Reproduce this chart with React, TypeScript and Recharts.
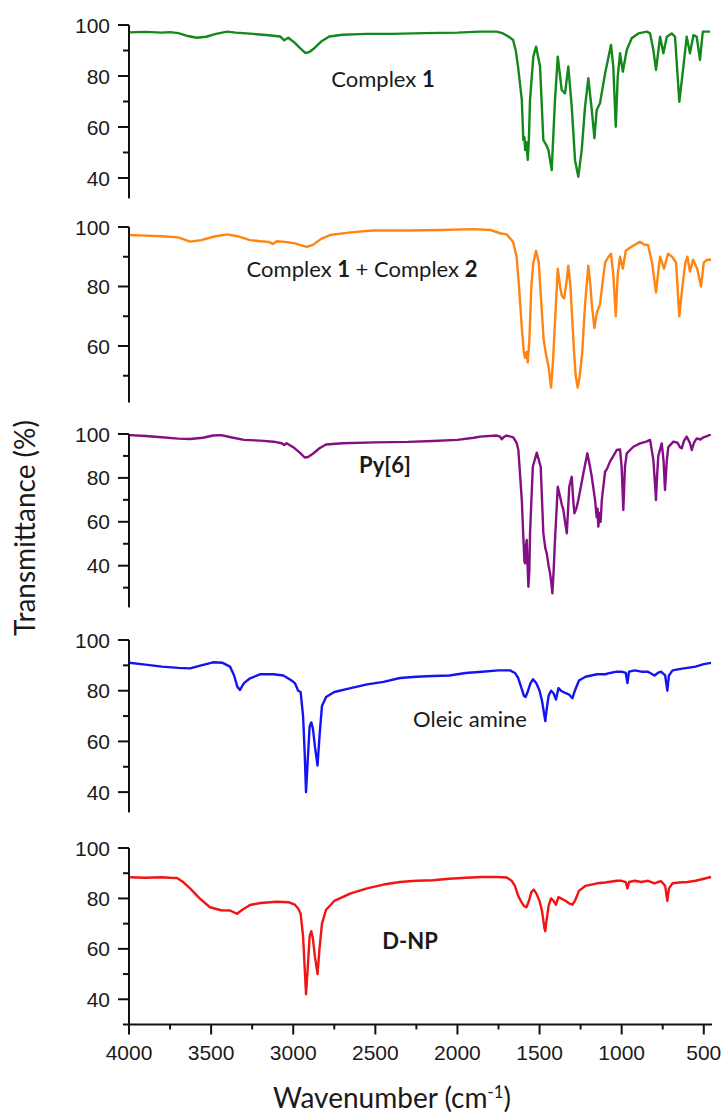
import { LineChart, Line, XAxis, YAxis } from 'recharts';

// [wavenumber (cm-1), transmittance (%)]
const complex1: [number, number][] = [
  [4000, 97.1], [3900, 97.3], [3800, 97], [3750, 97.2], [3700, 96.8], [3650, 95.8], [3586, 95], [3530, 95.4],
  [3470, 96.5], [3403, 97.4], [3350, 97], [3263, 96.6], [3150, 96], [3080, 95.5], [3055, 94], [3030, 95],
  [2990, 93], [2960, 91], [2925, 89], [2900, 89.5], [2870, 91], [2830, 93.5], [2780, 95.5], [2700, 96.2],
  [2550, 96.5], [2400, 96.5], [2200, 96.8], [2000, 97], [1900, 97.3], [1862, 97.4], [1760, 97.4], [1722, 96.7],
  [1690, 95.5], [1661, 94.1], [1645, 90], [1631, 83.7], [1608, 70.6], [1599, 54.9], [1592, 56], [1588, 51],
  [1580, 54], [1572, 47.1], [1565, 55], [1558, 70.6], [1538, 87.6], [1521, 91.5], [1497, 83.7], [1477, 54.9],
  [1460, 53], [1446, 51], [1426, 43.1], [1406, 70.6], [1389, 87.6], [1365, 74.5], [1345, 73.2], [1325, 83.7],
  [1304, 68], [1284, 47], [1264, 40.5], [1243, 51], [1223, 68], [1203, 79.1], [1182, 66.7], [1166, 55.6],
  [1152, 66.7], [1132, 69.3], [1101, 81], [1065, 92.2], [1051, 83.7], [1036, 60.1], [1024, 79.7], [1010, 88.9],
  [993, 81.7], [969, 90.2], [939, 94.8], [898, 96.7], [847, 97.4], [827, 96.7], [807, 90.2], [791, 82.4],
  [766, 95.4], [746, 88.9], [725, 95.4], [695, 96.7], [675, 95.4], [649, 69.9], [624, 83.7], [604, 95.4],
  [584, 88.9], [563, 96], [543, 95.4], [523, 86.3], [506, 97.4], [462, 97.4],
];

const complex12: [number, number][] = [
  [4000, 97.3], [3900, 97.1], [3800, 96.9], [3700, 96.5], [3628, 95.1], [3560, 95.6], [3480, 96.8], [3403, 97.5],
  [3330, 96.8], [3263, 95.6], [3200, 95.2], [3150, 95], [3123, 94.3], [3100, 95.2], [3050, 95], [2990, 94.5],
  [2950, 93.8], [2918, 93.3], [2880, 94], [2830, 96], [2776, 97.3], [2650, 98.2], [2514, 98.8], [2300, 98.8],
  [2100, 99], [1905, 99.3], [1800, 99], [1741, 97.9], [1700, 97.5], [1661, 95], [1640, 90], [1625, 80],
  [1608, 66], [1596, 58], [1588, 56], [1580, 58], [1572, 54.5], [1562, 62], [1550, 80], [1538, 88],
  [1521, 92], [1505, 88], [1490, 75], [1475, 62], [1460, 57], [1445, 53], [1430, 46], [1418, 55],
  [1406, 68], [1389, 86], [1375, 80], [1365, 77], [1350, 76], [1335, 82], [1325, 87], [1312, 80],
  [1300, 68], [1290, 58], [1280, 50], [1268, 46], [1255, 50], [1240, 58], [1223, 74], [1203, 87],
  [1190, 80], [1182, 74], [1166, 66], [1152, 71], [1132, 74], [1115, 82], [1101, 88], [1080, 90],
  [1065, 91], [1051, 84], [1036, 70], [1024, 84], [1010, 90], [993, 86], [975, 92], [950, 93],
  [920, 94], [890, 95], [860, 94], [840, 94], [815, 88], [791, 78], [775, 86], [766, 90],
  [742, 86], [718, 91], [693, 90], [669, 88], [649, 70], [630, 80], [612, 88], [600, 90],
  [584, 85], [565, 89], [540, 86], [517, 80], [500, 88], [480, 89], [456, 89],
];

const py6: [number, number][] = [
  [4000, 99.5], [3900, 99.1], [3800, 98.5], [3700, 97.9], [3628, 97.7], [3550, 98.3], [3488, 99.3], [3440, 99.5],
  [3380, 98.5], [3300, 97.3], [3200, 97], [3120, 96.5], [3070, 95.8], [3055, 95], [3040, 95.8], [3000, 94],
  [2960, 91.5], [2930, 89.3], [2910, 89.5], [2880, 91], [2840, 93.5], [2800, 95.2], [2700, 95.8], [2500, 96.2],
  [2300, 96.4], [2150, 96.8], [2000, 97.3], [1900, 98.3], [1862, 98.8], [1761, 99.3], [1740, 98.8], [1730, 97.6],
  [1715, 98.8], [1700, 99.3], [1660, 98.5], [1640, 96], [1629, 92.7], [1608, 69.9], [1599, 53.2], [1592, 42],
  [1588, 41.1], [1583, 49], [1578, 51.7], [1573, 40], [1568, 30.4], [1562, 38], [1558, 54.8], [1541, 85.1],
  [1517, 91.5], [1493, 85.1], [1477, 54.8], [1465, 48], [1456, 45.6], [1445, 40], [1436, 36.5], [1428, 32],
  [1422, 27.4], [1414, 38], [1406, 51.7], [1389, 76], [1375, 71.4], [1365, 68], [1355, 65.4], [1345, 60],
  [1334, 54.8], [1319, 76], [1304, 80.5], [1295, 70], [1288, 63.9], [1276, 66], [1264, 69.9], [1233, 82.1],
  [1209, 91.2], [1195, 86], [1182, 80.5], [1162, 69.9], [1152, 62], [1147, 66], [1142, 57.8], [1135, 64],
  [1128, 60], [1121, 69.9], [1101, 82.8], [1090, 84], [1071, 87.4], [1050, 90], [1030, 92.7], [1010, 93],
  [1000, 85], [990, 65.4], [980, 85], [969, 91.2], [929, 94.2], [888, 95.7], [850, 96.5], [827, 97.3],
  [807, 88.2], [795, 75], [791, 69.9], [785, 80], [777, 90], [756, 95.7], [745, 88], [736, 74.5],
  [725, 88], [716, 94], [685, 96.5], [660, 96], [645, 94], [634, 93.5], [620, 97], [604, 98.8],
  [585, 96], [573, 92.7], [560, 96], [543, 98], [520, 97.5], [502, 98.5], [480, 99], [457, 99.9],
];

const oleicAmine: [number, number][] = [
  [4000, 91], [3900, 90.3], [3800, 89.5], [3700, 89], [3628, 88.8], [3560, 90], [3488, 91.2], [3430, 91],
  [3385, 89.5], [3360, 86], [3340, 81.5], [3324, 80.3], [3300, 83], [3263, 84.9], [3200, 86.5], [3120, 86.5],
  [3060, 86], [3010, 84], [2990, 83], [2970, 80], [2955, 79.5], [2940, 70], [2930, 55], [2922, 40],
  [2912, 52], [2900, 66], [2890, 67.5], [2880, 65], [2868, 58], [2852, 50.5], [2840, 62], [2825, 74],
  [2800, 77.5], [2750, 79.5], [2650, 81], [2550, 82.5], [2450, 83.5], [2350, 85], [2250, 85.5], [2150, 85.8],
  [2050, 86], [1950, 87], [1850, 87.5], [1750, 88], [1680, 88], [1650, 87], [1630, 85], [1610, 81],
  [1595, 78], [1585, 77.5], [1570, 80], [1555, 83], [1540, 84.5], [1520, 83], [1500, 80], [1485, 76],
  [1470, 70], [1465, 68], [1458, 72], [1445, 78], [1430, 80], [1415, 79], [1400, 76.5], [1385, 81],
  [1370, 80], [1340, 79], [1320, 78.5], [1300, 77], [1285, 80], [1260, 84], [1220, 85.5], [1150, 86.5],
  [1100, 86.5], [1070, 87], [1030, 87.5], [1000, 87.5], [975, 87], [965, 83], [955, 87.5], [920, 88],
  [880, 87.5], [840, 87.5], [800, 86], [780, 87], [760, 87.5], [735, 86], [722, 80], [712, 86],
  [690, 88], [650, 88.5], [600, 89], [550, 89.5], [500, 90.5], [456, 91],
];

const dnp: [number, number][] = [
  [4000, 88.4], [3900, 88.2], [3800, 88.4], [3750, 88.2], [3708, 88.1], [3670, 86.5], [3628, 84], [3570, 80],
  [3507, 76.5], [3440, 75.3], [3385, 75.2], [3342, 73.9], [3310, 75.5], [3263, 77.4], [3200, 78.2], [3100, 78.7],
  [3030, 78.5], [2990, 77.5], [2970, 76], [2955, 74], [2940, 65], [2930, 52], [2922, 42], [2912, 52],
  [2900, 65], [2890, 67], [2880, 64], [2868, 57], [2852, 50], [2840, 60], [2825, 70], [2800, 75.5],
  [2750, 79], [2650, 82], [2550, 84], [2450, 85.5], [2350, 86.5], [2250, 87], [2150, 87.2], [2050, 87.8],
  [1950, 88.2], [1850, 88.5], [1760, 88.5], [1700, 88.3], [1670, 87], [1650, 85], [1630, 81], [1610, 78.5],
  [1595, 77], [1580, 76.5], [1565, 79], [1550, 82.5], [1535, 83.5], [1520, 82], [1500, 79], [1485, 75],
  [1470, 68], [1465, 67], [1458, 71], [1445, 77], [1430, 80], [1415, 79], [1400, 77.5], [1385, 80.5],
  [1370, 80], [1340, 79], [1320, 78], [1300, 77.5], [1285, 79], [1260, 83], [1220, 85], [1150, 86],
  [1100, 86.3], [1060, 86.7], [1030, 87], [1000, 87], [975, 86.5], [965, 84], [955, 86.5], [920, 87],
  [880, 86.5], [840, 87], [800, 86], [780, 86.5], [760, 86.8], [735, 85], [722, 79], [712, 84],
  [690, 86], [650, 86.3], [600, 86.5], [550, 87], [500, 87.8], [456, 88.5],
];

const xTicks = [4000, 3750, 3500, 3250, 3000, 2750, 2500, 2250, 2000, 1750, 1500, 1250, 1000, 750, 500];

const panels = [
  { key: 'c1', points: complex1, color: '#12891a', lo: 32, ticks: [40, 50, 60, 70, 80, 90, 100], top: 25, h: 173.4 },
  { key: 'c12', points: complex12, color: '#ff8412', lo: 41, ticks: [50, 60, 70, 80, 90, 100], top: 227, h: 175.5 },
  { key: 'py', points: py6, color: '#840f84', lo: 21, ticks: [30, 40, 50, 60, 70, 80, 90, 100], top: 434, h: 173.4 },
  { key: 'oa', points: oleicAmine, color: '#1414f0', lo: 32, ticks: [40, 50, 60, 70, 80, 90, 100], top: 640, h: 172.4 },
  { key: 'dnp', points: dnp, color: '#f01414', lo: 30, ticks: [30, 40, 50, 60, 70, 80, 90, 100], top: 848, h: 176.5 },
];

const tickFont = '"Liberation Sans", Arial, sans-serif';
const labelFont = 'Lato, "Open Sans", sans-serif';

const YTick = (props: any) => {
  const { x, y, payload } = props;
  const major = payload.value % 20 === 0;
  return (
    <g>
      <line x1={x - (major ? 11 : 6)} x2={x} y1={y} y2={y} stroke="#111" strokeWidth={2} />
      {major && (
        <text x={x - 19} y={y} dy="0.36em" textAnchor="end" fontSize={21} fontFamily={tickFont} fill="#1a1a1a">
          {payload.value}
        </text>
      )}
    </g>
  );
};

const XTick = (props: any) => {
  const { x, y, payload } = props;
  const major = payload.value % 500 === 0;
  return (
    <g>
      <line x1={x} x2={x} y1={y} y2={y + (major ? 10 : 5)} stroke="#111" strokeWidth={2} />
      {major && (
        <text x={x} y={y + 28} dy="0.36em" textAnchor="middle" fontSize={21} fontFamily={tickFont} fill="#1a1a1a">
          {payload.value}
        </text>
      )}
    </g>
  );
};

const notes = [
  { key: 'n1', left: 383, top: 78, content: <>Complex <b>1</b></> },
  { key: 'n2', left: 362, top: 268, content: <>Complex <b>1</b> + Complex <b>2</b></> },
  { key: 'n3', left: 385, top: 464, content: <b>Py[6]</b> },
  { key: 'n4', left: 470, top: 718, content: <>Oleic amine</> },
  { key: 'n5', left: 410, top: 940, content: <b>D-NP</b> },
];

export default function App() {
  return (
    <div style={{ position: 'absolute', left: 0, top: 0, width: 726, height: 1117, background: '#fff', overflow: 'hidden' }}>
      {panels.map((p, i) => {
        const last = i === panels.length - 1;
        const data = p.points.map(([wn, t]) => ({ wn, t }));
        const mTop = 12;
        const mBottom = last ? 0 : 12;
        const xH = last ? 50 : 0;
        return (
          <div key={p.key} style={{ position: 'absolute', left: 0, top: p.top - mTop }}>
            <LineChart
              width={726}
              height={p.h + mTop + mBottom + xH}
              data={data}
              margin={{ top: mTop, right: 14, bottom: mBottom, left: 69 }}
            >
              <XAxis
                dataKey="wn"
                type="number"
                domain={[450, 4000]}
                reversed
                allowDataOverflow
                hide={!last}
                height={xH}
                ticks={xTicks}
                interval={0}
                tickSize={0}
                tickMargin={0}
                tickLine={false}
                axisLine={{ stroke: '#111', strokeWidth: 2 }}
                tick={(tp: any) => <XTick {...tp} />}
              />
              <YAxis
                type="number"
                domain={[p.lo, 100]}
                allowDataOverflow
                width={60}
                ticks={p.ticks}
                interval={0}
                tickSize={0}
                tickMargin={0}
                tickLine={false}
                axisLine={{ stroke: '#111', strokeWidth: 2 }}
                tick={(tp: any) => <YTick {...tp} />}
              />
              <Line
                type="linear"
                dataKey="t"
                stroke={p.color}
                strokeWidth={2.4}
                strokeLinejoin="round"
                dot={false}
                activeDot={false}
                isAnimationActive={false}
              />
            </LineChart>
          </div>
        );
      })}

      {notes.map((n) => (
        <div
          key={n.key}
          style={{
            position: 'absolute',
            left: n.left,
            top: n.top,
            transform: 'translate(-50%, -50%)',
            whiteSpace: 'nowrap',
            fontFamily: labelFont,
            fontSize: 22,
            color: '#1a1a1a',
          }}
        >
          {n.content}
        </div>
      ))}

      <div
        style={{
          position: 'absolute',
          left: 24,
          top: 528,
          transform: 'translate(-50%, -50%) rotate(-90deg)',
          whiteSpace: 'nowrap',
          fontFamily: labelFont,
          fontSize: 28,
          color: '#1a1a1a',
        }}
      >
        Transmittance (%)
      </div>
      <div
        style={{
          position: 'absolute',
          left: 392,
          top: 1097,
          transform: 'translate(-50%, -50%)',
          whiteSpace: 'nowrap',
          fontFamily: labelFont,
          fontSize: 28,
          color: '#1a1a1a',
        }}
      >
        Wavenumber (cm<sup style={{ fontSize: '0.6em' }}>-1</sup>)
      </div>
    </div>
  );
}
